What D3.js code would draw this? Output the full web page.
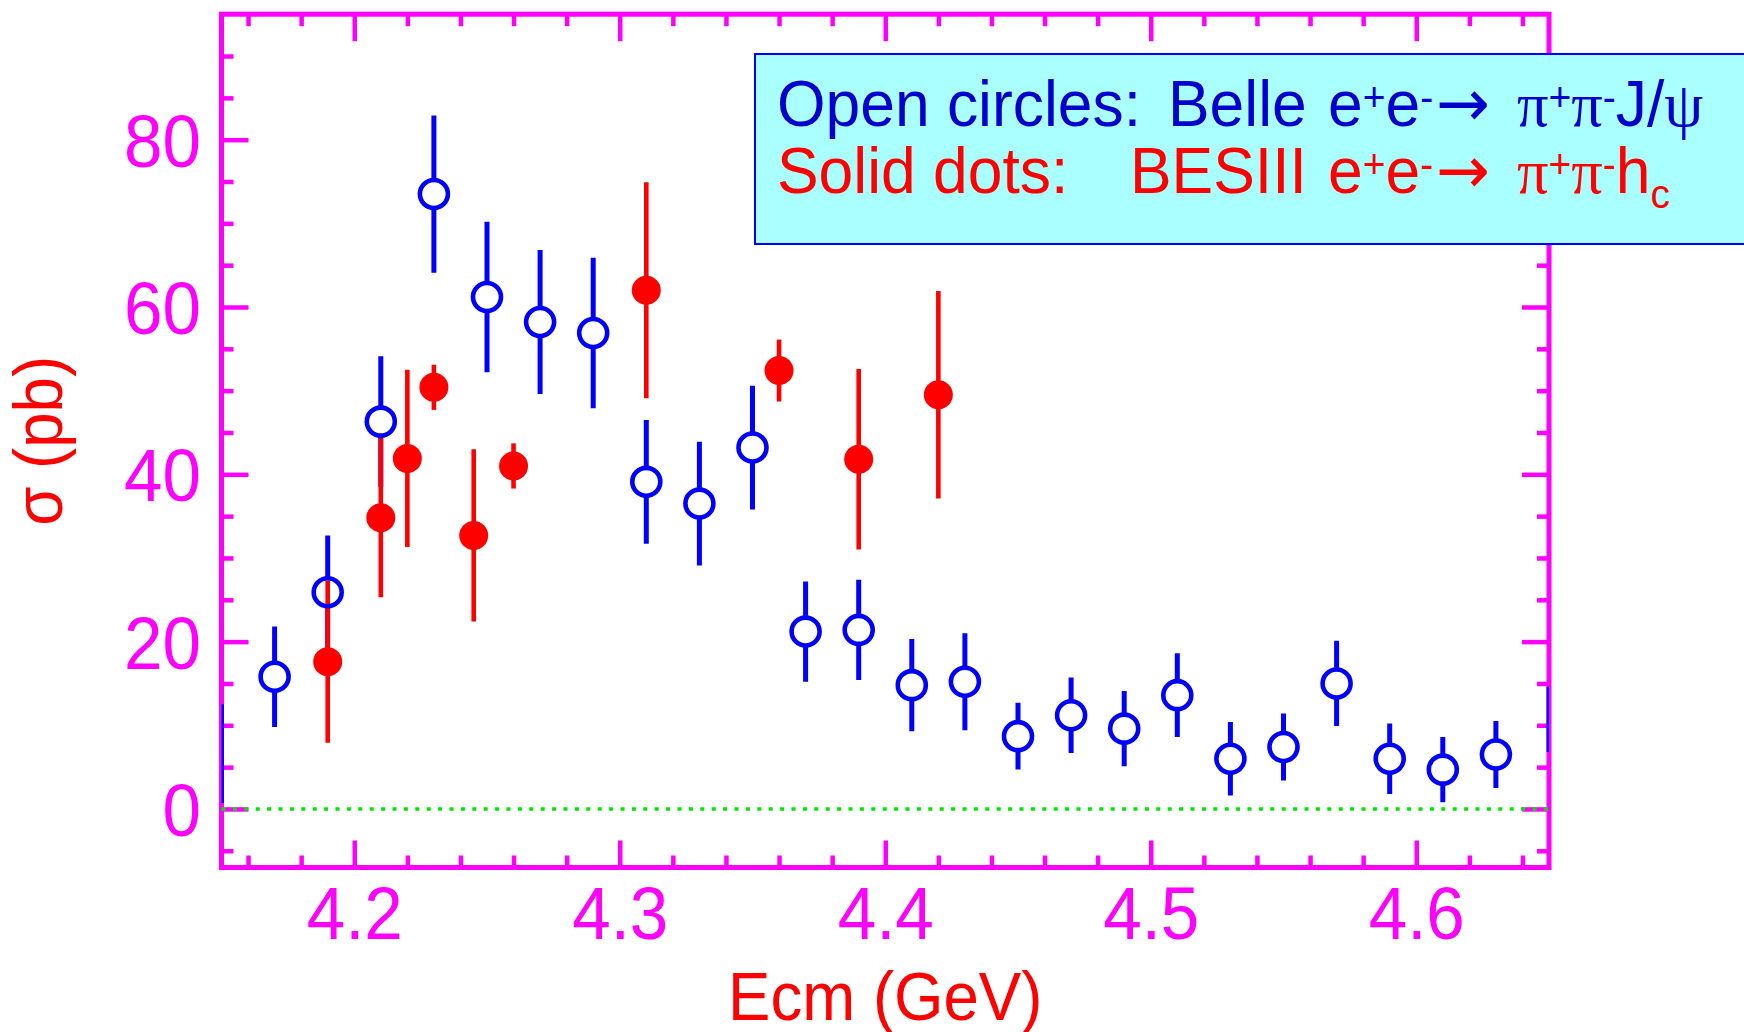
<!DOCTYPE html>
<html><head><meta charset="utf-8">
<script src="https://cdn.jsdelivr.net/npm/d3@7"></script>
<style>html,body{margin:0;padding:0;background:#fff;} svg{display:block;}</style>
</head><body>
<script>
// ---- data ----
const xTickValues = [4.2, 4.3, 4.4, 4.5, 4.6];
const yTickValues = [0, 20, 40, 60, 80];
const xDomain = [4.15, 4.65];
const yDomain = [-7, 95];

// Belle e+e- -> pi+pi- J/psi (open circles)
const belleE     = [4.15, 4.17, 4.19, 4.21, 4.23, 4.25, 4.27, 4.29, 4.31, 4.33, 4.35, 4.37, 4.39,
                    4.41, 4.43, 4.45, 4.47, 4.49, 4.51, 4.53, 4.55, 4.57, 4.59, 4.61, 4.63, 4.65];
const belleSigma = [6.6, 15.8, 25.9, 46.3, 73.5, 61.2, 58.2, 56.9, 39.1, 36.5, 43.2, 21.2, 21.4,
                    14.8, 15.2, 8.7, 11.2, 9.6, 13.6, 6.0, 7.4, 15.0, 6.0, 4.7, 6.5, 10.7];
const belleErr   = [5.9, 6.0, 6.8, 7.8, 9.4, 9.0, 8.6, 9.0, 7.4, 7.4, 7.4, 6.0, 6.0,
                    5.5, 5.8, 4.0, 4.5, 4.5, 5.0, 4.4, 4.0, 5.1, 4.2, 3.9, 4.0, 3.9];

// BESIII e+e- -> pi+pi- h_c (solid dots)
const besE     = [4.19, 4.21, 4.22, 4.23, 4.245, 4.26, 4.31, 4.36, 4.39, 4.42];
const besSigma = [17.6, 34.8, 41.9, 50.4, 32.7, 41.0, 62.0, 52.4, 41.8, 49.5];
const besErr   = [9.7, 9.5, 10.6, 2.7, 10.3, 2.7, 12.9, 3.7, 10.8, 12.4];

const xTitle = "Ecm (GeV)";
const yTitle = "σ (pb)";

// ---- layout ----
const W = 1744, H = 1032;
const m = {left: 221.5, right: 1549, top: 14.2, bottom: 867.5};
const sx = 0.935;      // horizontal squeeze of axis texts
const lsx = 0.975;     // horizontal squeeze of legend texts
const MAG = "#ff00ff", BLUE = "#0000ff", RED = "#ff0000";
const SANS = "'Liberation Sans', Arial, Helvetica, sans-serif";
const SERIF = "'Liberation Serif', 'Times New Roman', serif";
const ARROWF = "'DejaVu Sans', sans-serif";

const svg = d3.select("body").append("svg").attr("width", W).attr("height", H);
const x = d3.scaleLinear().domain(xDomain).range([m.left, m.right]);
const y = d3.scaleLinear().domain(yDomain).range([m.bottom, m.top]);

const xMinor = d3.range(4.16, 4.645, 0.02).map(v => +v.toFixed(2))
  .filter(v => Math.abs(v * 10 - Math.round(v * 10)) > 1e-6);
const yMinor = d3.range(-5, 95, 5).filter(v => v % 20 !== 0);

function styleAxis(g) {
  g.select(".domain").remove();
  g.selectAll(".tick line").attr("stroke", MAG).attr("stroke-width", 4.5);
}

// frame
svg.append("rect").attr("x", m.left).attr("y", m.top)
  .attr("width", m.right - m.left).attr("height", m.bottom - m.top)
  .attr("fill", "none").attr("stroke", MAG).attr("stroke-width", 5);

// major axes
const gB = svg.append("g").attr("transform", `translate(0,${m.bottom})`)
  .call(d3.axisBottom(x).tickValues(xTickValues).tickSize(-27).tickPadding(19).tickFormat(d3.format(".1f")));
styleAxis(gB);
gB.selectAll(".tick text").attr("fill", MAG).style("font-size", "74px").style("font-family", SANS)
  .attr("transform", `scale(${sx},1)`);

const gL = svg.append("g").attr("transform", `translate(${m.left},0)`)
  .call(d3.axisLeft(y).tickValues(yTickValues).tickSize(-27).tickPadding(22).tickFormat(d3.format("d")));
styleAxis(gL);
gL.selectAll(".tick text").attr("fill", MAG).style("font-size", "74px").style("font-family", SANS)
  .attr("dy", "0.36em").attr("transform", `scale(${sx},1)`);

const gT = svg.append("g").attr("transform", `translate(0,${m.top})`)
  .call(d3.axisTop(x).tickValues(xTickValues).tickSize(-27).tickFormat(""));
styleAxis(gT);
const gR = svg.append("g").attr("transform", `translate(${m.right},0)`)
  .call(d3.axisRight(y).tickValues(yTickValues).tickSize(-27).tickFormat(""));
styleAxis(gR);

// minor ticks
[[d3.axisBottom(x).tickValues(xMinor), `translate(0,${m.bottom})`],
 [d3.axisTop(x).tickValues(xMinor), `translate(0,${m.top})`],
 [d3.axisLeft(y).tickValues(yMinor), `translate(${m.left},0)`],
 [d3.axisRight(y).tickValues(yMinor), `translate(${m.right},0)`]].forEach(([ax, tr]) => {
  const g = svg.append("g").attr("transform", tr).call(ax.tickSize(-12).tickFormat(""));
  styleAxis(g);
});

// zero line
svg.append("line").attr("x1", m.left).attr("x2", m.right).attr("y1", y(0)).attr("y2", y(0))
  .attr("stroke", "#00e600").attr("stroke-width", 3.5).attr("stroke-dasharray", "4 7.4");

// clip
svg.append("clipPath").attr("id", "plotclip").append("rect")
  .attr("x", m.left).attr("y", m.top).attr("width", m.right - m.left).attr("height", m.bottom - m.top);

const belle = belleE.map((e, i) => ({e, v: belleSigma[i], err: belleErr[i]}));
const bes = besE.map((e, i) => ({e, v: besSigma[i], err: besErr[i]}));
const R = 14;
const inside = d => d.e > xDomain[0] + 1e-9 && d.e < xDomain[1] - 1e-9;

const gData = svg.append("g").attr("clip-path", "url(#plotclip)");

// Belle error bars (split around the open circle)
gData.append("g").selectAll("path").data(belle).join("path")
  .attr("d", d => {
    const cy = y(d.v), t = y(d.v + d.err), b = y(d.v - d.err), cx = x(d.e);
    const r = inside(d) ? R : 0;
    let p = "";
    if (cy - r > t) p += `M${cx},${t}V${cy - r}`;
    if (cy + r < b) p += `M${cx},${b}V${cy + r}`;
    return p || null;
  })
  .attr("stroke", BLUE).attr("stroke-width", 5).attr("fill", "none");

// BESIII error bars
gData.append("g").selectAll("line").data(bes).join("line")
  .attr("x1", d => x(d.e)).attr("x2", d => x(d.e))
  .attr("y1", d => y(d.v + d.err)).attr("y2", d => y(d.v - d.err))
  .attr("stroke", RED).attr("stroke-width", 4.6);

// Belle open circles
gData.append("g").selectAll("circle").data(belle.filter(inside)).join("circle")
  .attr("cx", d => x(d.e)).attr("cy", d => y(d.v)).attr("r", R)
  .attr("fill", "none").attr("stroke", BLUE).attr("stroke-width", 4.6);

// BESIII solid dots
gData.append("g").selectAll("circle").data(bes).join("circle")
  .attr("cx", d => x(d.e)).attr("cy", d => y(d.v)).attr("r", 14.5)
  .attr("fill", RED);

// axis titles
svg.append("text").attr("transform", `translate(${(m.left + m.right) / 2},1020) scale(${sx},1)`)
  .attr("text-anchor", "middle").attr("fill", RED).style("font-family", SANS).style("font-size", "68px")
  .text(xTitle);
svg.append("text").attr("transform", `translate(62,${(m.top + m.bottom) / 2}) rotate(-90) scale(${sx},1)`)
  .attr("text-anchor", "middle").attr("fill", RED).style("font-family", SANS).style("font-size", "68px")
  .text(yTitle);

// legend box
svg.append("rect").attr("x", 755).attr("y", 54).attr("width", 1100).attr("height", 190)
  .attr("fill", "#aaffff").attr("stroke", BLUE).attr("stroke-width", 2);

const legendLines = [
  {y: 126, color: "#0000cc", segs: [
    {t: "Open circles:", x: 777}, {t: "Belle", x: 1168},
    {t: "e", x: 1328}, {t: "+", sup: true}, {t: "e"}, {t: "-", sup: true},
    {t: "→", x: 1436, f: ARROWF}, {t: "π", x: 1517, f: SERIF}, {t: "+", sup: true},
    {t: "π", f: SERIF}, {t: "-", sup: true}, {t: "J/"}, {t: "ψ", f: SERIF}]},
  {y: 193, color: RED, segs: [
    {t: "Solid dots:", x: 777}, {t: "BESIII", x: 1130},
    {t: "e", x: 1328}, {t: "+", sup: true}, {t: "e"}, {t: "-", sup: true},
    {t: "→", x: 1436, f: ARROWF}, {t: "π", x: 1517, f: SERIF}, {t: "+", sup: true},
    {t: "π", f: SERIF}, {t: "-", sup: true}, {t: "h"}, {t: "c", sub: true}]}
];
const gLeg = svg.append("g").attr("transform", `scale(${lsx},1)`);
legendLines.forEach(line => {
  const txt = gLeg.append("text").attr("y", line.y).attr("fill", line.color)
    .style("font-family", SANS).style("font-size", "64px");
  let shift = 0;
  line.segs.forEach(s => {
    const ts = txt.append("tspan").text(s.t);
    if (s.x !== undefined) ts.attr("x", s.x / lsx);
    let target = s.sup ? -15 : (s.sub ? 15 : 0);
    if (target !== shift) { ts.attr("dy", target - shift); shift = target; }
    ts.style("font-size", (s.sup || s.sub) ? "40px" : (s.f === ARROWF ? "66px" : "64px"));
    if (s.f) ts.style("font-family", s.f);
  });
});
</script>
</body></html>
